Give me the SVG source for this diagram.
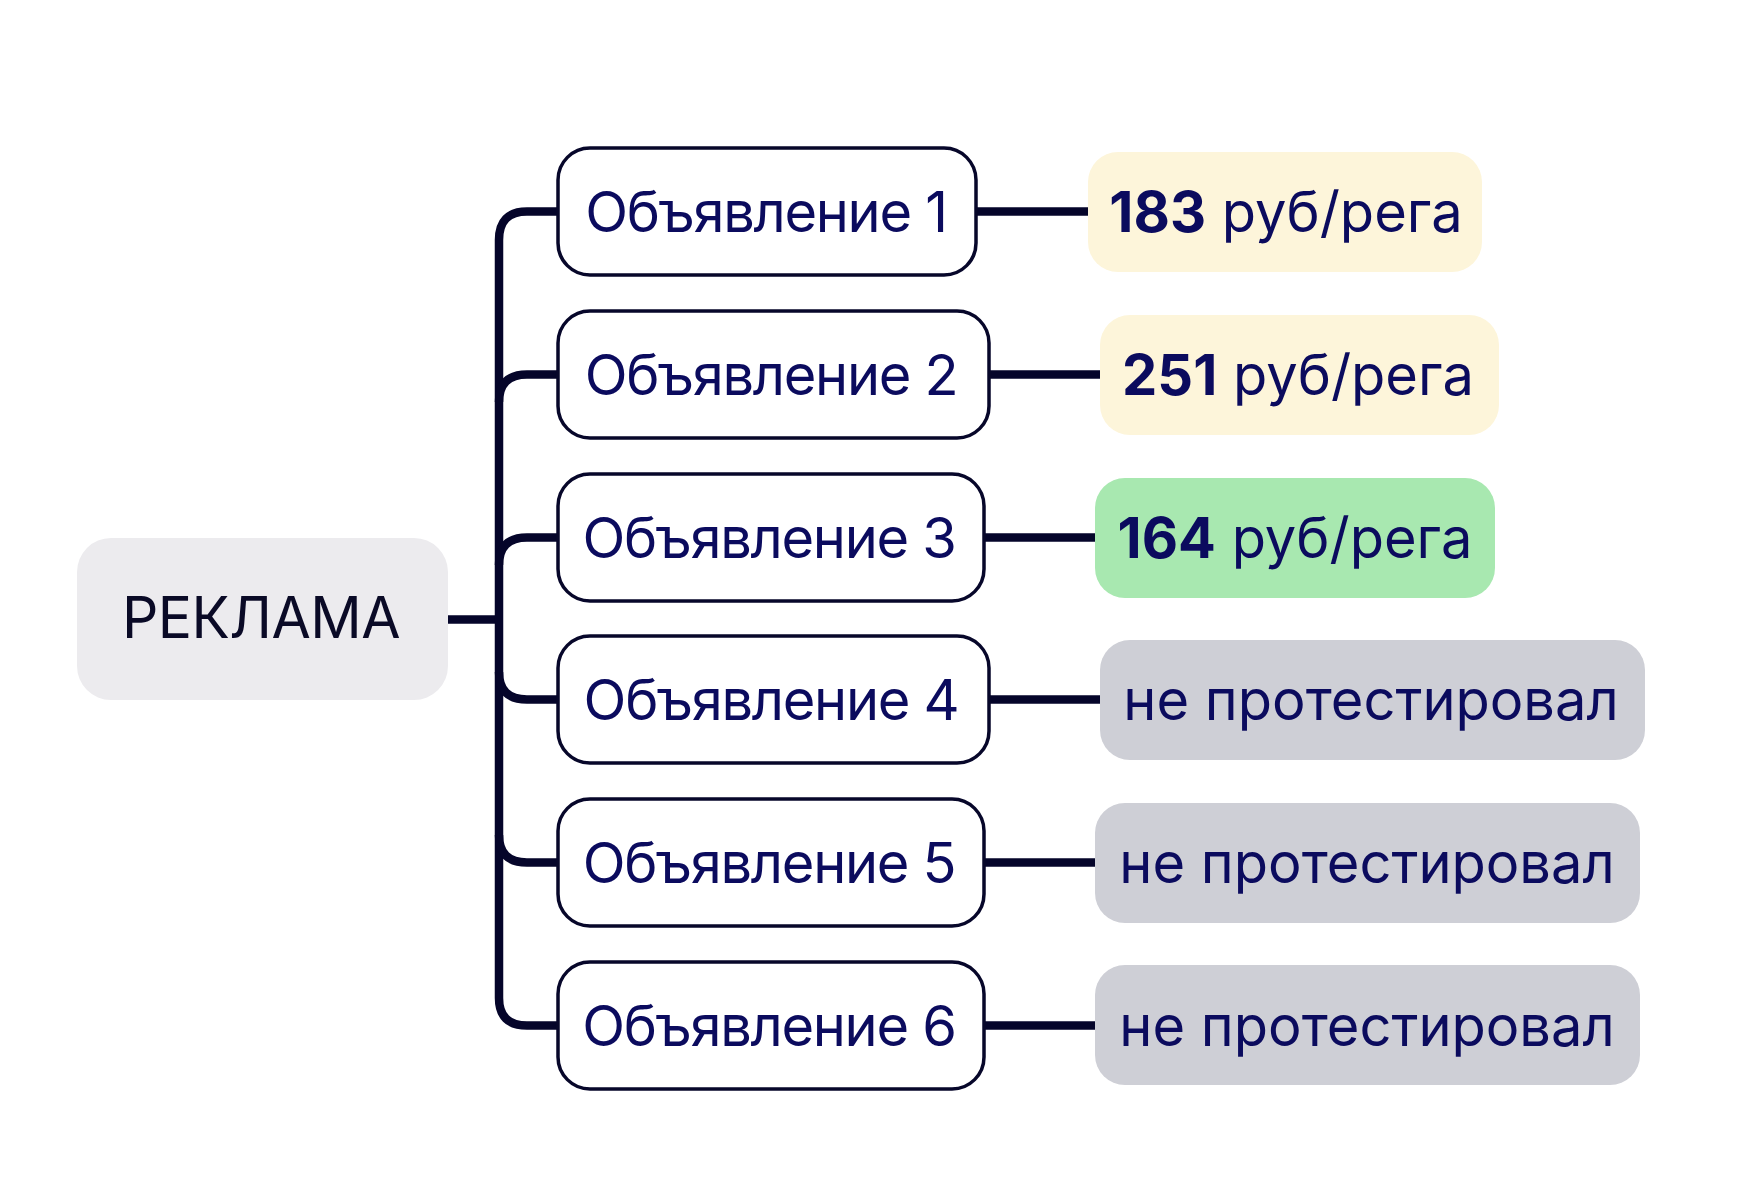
<svg xmlns="http://www.w3.org/2000/svg" width="1758" height="1194" viewBox="0 0 1758 1194">
<style>
.ad{fill:#fff;stroke:#07072a;stroke-width:3.5}
.t{font-family:Inter,"Noto Sans","Liberation Sans",sans-serif;font-size:56px;fill:#0b0b5e;text-anchor:middle}
.a{letter-spacing:-1.3px}
.b{font-weight:700}
.c{fill:none;stroke:#05052a;stroke-width:8.5}
.cream{fill:#fdf5da}
.green{fill:#a8e8b0}
.grey{fill:#cecfd6}
</style>
<rect width="1758" height="1194" fill="#fff"/>
<g id="connectors">
<path class="c" d="M448,619.5H499"/>
<path class="c" d="M499,240V998"/>
<path class="c" d="M499,240Q499,211.5 527,211.5H558"/>
<path class="c" d="M499,402Q499,374.5 527,374.5H558"/>
<path class="c" d="M499,565Q499,537.5 527,537.5H558"/>
<path class="c" d="M499,672Q499,699.5 527,699.5H558"/>
<path class="c" d="M499,835Q499,862.5 527,862.5H558"/>
<path class="c" d="M499,998Q499,1025.5 527,1025.5H558"/>
<path class="c" d="M976,211.5H1088"/>
<path class="c" d="M989,374.5H1100"/>
<path class="c" d="M984,537.5H1095"/>
<path class="c" d="M989,699.5H1100"/>
<path class="c" d="M984,862.5H1095"/>
<path class="c" d="M984,1025.5H1095"/>
</g>
<g id="root">
<rect x="77" y="538" width="371" height="162" rx="34" fill="#ecebee"/>
<text x="261" y="638" style="font-family:Inter,'Noto Sans','Liberation Sans',sans-serif;font-size:57px;fill:#0a0a26;text-anchor:middle;letter-spacing:-0.5px">РЕКЛАМА</text>
</g>
<g id="ad1"><rect class="ad" x="558" y="148" width="418" height="127" rx="32"/><text class="t a" x="766" y="231.5">Объявление 1</text></g>
<g id="ad2"><rect class="ad" x="558" y="311" width="431" height="127" rx="32"/><text class="t a" x="771" y="394.5">Объявление 2</text></g>
<g id="ad3"><rect class="ad" x="558" y="474" width="426" height="127" rx="32"/><text class="t a" x="769" y="557.5">Объявление 3</text></g>
<g id="ad4"><rect class="ad" x="558" y="636" width="431" height="127" rx="32"/><text class="t a" x="771" y="719.5">Объявление 4</text></g>
<g id="ad5"><rect class="ad" x="558" y="799" width="426" height="127" rx="32"/><text class="t a" x="769" y="882.5">Объявление 5</text></g>
<g id="ad6"><rect class="ad" x="558" y="962" width="426" height="127" rx="32"/><text class="t a" x="769" y="1045.5">Объявление 6</text></g>
<g id="res1"><rect class="cream" x="1088" y="152" width="394" height="120" rx="30"/><text class="t" x="1286" y="231.5"><tspan class="b">183</tspan> руб/рега</text></g>
<g id="res2"><rect class="cream" x="1100" y="315" width="399" height="120" rx="30"/><text class="t" x="1298" y="394.5"><tspan class="b">251</tspan> руб/рега</text></g>
<g id="res3"><rect class="green" x="1095" y="478" width="400" height="120" rx="30"/><text class="t" x="1295" y="557.5"><tspan class="b">164</tspan> руб/рега</text></g>
<g id="res4"><rect class="grey" x="1100" y="640" width="545" height="120" rx="30"/><text class="t" x="1371" y="719.5">не протестировал</text></g>
<g id="res5"><rect class="grey" x="1095" y="803" width="545" height="120" rx="30"/><text class="t" x="1367" y="882.5">не протестировал</text></g>
<g id="res6"><rect class="grey" x="1095" y="965" width="545" height="120" rx="30"/><text class="t" x="1367" y="1045.5">не протестировал</text></g>
</svg>
